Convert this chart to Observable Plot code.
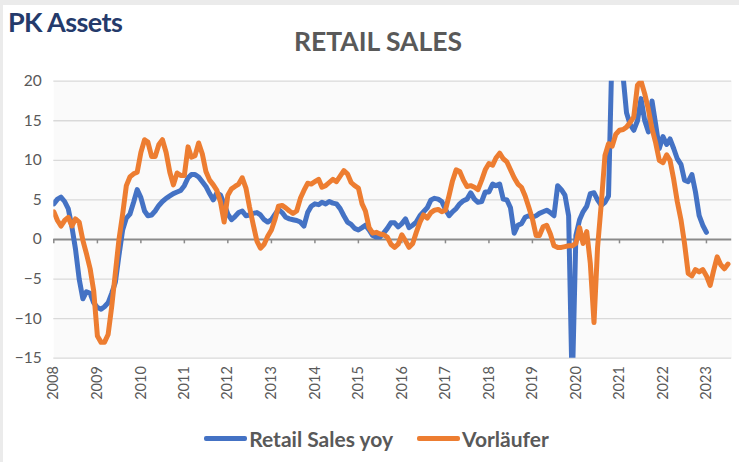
<!DOCTYPE html>
<html>
<head>
<meta charset="utf-8">
<script src="https://cdn.jsdelivr.net/npm/d3@7"></script>
<script src="https://cdn.jsdelivr.net/npm/@observablehq/plot@0.6"></script>
<style>
  html, body { margin: 0; padding: 0; background: #ffffff; }
  #page { position: relative; width: 739px; height: 462px; background: #ffffff; overflow: hidden;
          box-shadow: inset 3px 5px 0 0 #ebebeb; font-family: Lato, "Open Sans", sans-serif; }
  #logo { position: absolute; left: 8px; top: 8px; font-size: 27px; font-weight: 700; line-height: 1;
          color: #243a6b; letter-spacing: -0.6px; }
  #title { position: absolute; left: 0; width: 756px; top: 28px; text-align: center; font-size: 26.5px;
           font-weight: 700; line-height: 1; color: #595959; }
  #chart { position: absolute; left: 0; top: 62px; }
  #legend { position: absolute; left: 0; top: 424px; width: 739px; height: 28px; display: flex;
            align-items: center; justify-content: center; padding-left: 14px; box-sizing: border-box; }
  .item { display: flex; align-items: center; margin: 0 12px; font-size: 21px; font-weight: 700; color: #595959; }
  .sw { width: 43px; height: 5px; border-radius: 2px; margin-right: 2px; }
</style>
</head>
<body>
<div id="page">
  <div id="logo">PK Assets</div>
  <div id="title">RETAIL SALES</div>
  <div id="chart"></div>
  <div id="legend"></div>
</div>
<script>
// Monthly values, first value = January 2008
const startYear = 2008;
const retailSalesYoy = [
  4.5, 5.1, 5.35, 4.8, 3.9, 1.6, -1.2, -5.0, -7.5, -6.6, -6.8, -8.0,
  -8.6, -8.8, -8.5, -8.0, -6.8, -5.4, -2.0, 1.2, 2.7, 3.2, 4.7, 6.3,
  5.3, 3.6, 3.0, 3.1, 3.6, 4.3, 4.8, 5.2, 5.5, 5.8, 6.0, 6.2,
  6.8, 7.8, 8.2, 8.2, 7.9, 7.3, 6.7, 5.8, 5.0, 5.9, 5.6, 4.5,
  3.2, 2.5, 2.9, 3.4, 3.6, 3.0, 3.1, 3.3, 3.4, 3.1, 2.5, 2.2,
  2.5, 3.2, 3.8, 3.4, 2.8, 2.6, 2.5, 2.4, 2.2, 1.7, 3.4, 4.2,
  4.5, 4.4, 4.7, 4.5, 4.8, 4.6, 4.5, 3.9, 3.0, 2.2, 1.9, 1.4,
  1.2, 1.5, 1.8, 1.2, 0.5, 0.3, 0.3, 0.8, 1.4, 2.1, 2.1, 1.6,
  2.0, 2.6, 1.5, 1.8, 2.2, 3.0, 3.5, 4.0, 5.0, 5.2, 5.1, 4.8,
  3.8, 3.0, 3.5, 3.9, 4.5, 4.9, 5.1, 5.9, 5.1, 4.7, 4.8, 6.0,
  6.0, 7.0, 6.8, 7.0, 5.1, 5.0, 4.0, 0.8, 1.8, 2.0, 2.8, 3.0,
  2.8, 3.0, 3.3, 3.5, 3.7, 3.4, 3.0, 6.8, 6.3, 5.6, 3.0, -19.0,
  0.5, 2.5, 3.5, 4.2, 5.8, 5.9, 5.0, 4.3, 4.7, 5.5, 25.0, 35.0,
  40.0, 20.5, 16.0, 14.5, 13.8, 15.0, 17.8, 15.0, 13.6, 17.5, 14.5, 11.5,
  13.0, 12.0, 12.7, 11.5, 10.2, 9.5, 7.5, 7.3, 8.2, 6.0, 3.0, 1.8,
  0.9
];
const vorlaeufer = [
  3.5, 2.4, 1.7, 2.4, 2.8, 1.7, 2.6, 2.2, -0.1, -1.8, -3.7, -6.5,
  -12.2, -13.0, -13.0, -12.0, -8.5, -4.2, 0.0, 3.2, 6.8, 7.9, 8.3, 8.5,
  11.0, 12.6, 12.3, 10.5, 10.5, 12.0, 12.6, 11.0, 8.5, 6.9, 8.4, 8.1,
  8.1, 11.7, 10.4, 10.6, 12.2, 10.8, 8.6, 7.5, 6.9, 6.2, 4.7, 2.2,
  5.6, 6.4, 6.7, 7.0, 7.8, 6.5, 4.1, 1.9, -0.2, -1.1, -0.6, 0.4,
  1.2, 2.6, 4.2, 4.3, 4.0, 3.6, 3.3, 3.6, 5.2, 6.2, 7.1, 7.0,
  7.3, 7.6, 6.6, 6.8, 7.2, 7.6, 7.3, 8.0, 8.7, 8.3, 7.2, 6.8,
  6.5, 4.5, 3.6, 1.5, 0.8, 0.9, 0.7, 0.6, 0.3, -0.6, -1.0, -0.6,
  0.6, -0.2, -1.0, -0.5, 0.9, 2.2, 3.1, 2.7, 3.4, 3.7, 3.8, 3.5,
  3.7, 5.6, 7.4, 8.8, 8.6, 7.5, 6.7, 6.8, 6.6, 6.3, 7.5, 8.8,
  9.6, 9.4, 10.3, 10.9, 10.2, 9.8, 8.8, 7.8, 7.0, 6.6, 5.5, 4.1,
  2.6, 0.5, 0.5, 1.6, 1.8, 0.7, -0.8, -1.0, -1.0, -0.9, -0.8, -0.8,
  -0.5, 1.5, -0.5, 1.0, -3.0, -10.5, -1.0, 4.5, 10.6, 12.1, 11.8, 13.3,
  13.8, 13.9, 14.2, 14.8, 15.5, 19.5, 20.0, 18.4, 16.4, 14.0, 12.2, 10.0,
  9.7, 10.7, 10.0, 7.6, 4.8, 2.5, -0.5, -4.3, -4.6, -3.8, -4.1, -3.8,
  -4.6, -5.8, -4.0, -2.2, -3.2, -3.7, -3.1
];
const seriesNames = ["Retail Sales yoy", "Vorläufer"];
const seriesColors = ["#4472C4", "#ED7D31"];
const yTicks = [-15, -10, -5, 0, 5, 10, 15, 20];
const yearLabels = [2008, 2009, 2010, 2011, 2012, 2013, 2014, 2015, 2016, 2017, 2018, 2019, 2020, 2021, 2022, 2023];

const toRows = (arr) => arr.map((v, i) => ({date: new Date(Date.UTC(startYear, i, 1)), value: v}));
const blueRows = toRows(retailSalesYoy);
const orangeRows = toRows(vorlaeufer);
const yearDates = yearLabels.map(y => new Date(Date.UTC(y, 0, 1)));

const chart = Plot.plot({
  width: 739,
  height: 360,
  marginTop: 18.7,
  marginBottom: 64.3,
  marginLeft: 53.3,
  marginRight: 7.8,
  x: {type: "utc", domain: [new Date(Date.UTC(2008, 0, 1)), new Date(Date.UTC(2023, 7, 1))]},
  y: {domain: [-15, 20]},
  style: {fontFamily: "Lato, 'Open Sans', sans-serif", color: "#595959", background: "transparent", overflow: "visible"},
  marks: [
    Plot.frame({fill: "#fafafa", stroke: null}),
    Plot.gridY(yTicks.filter(d => d !== 0), {stroke: "#d9d9d9", strokeOpacity: 1, strokeWidth: 1.3}),
    Plot.axisY(yTicks, {tickSize: 0, tickPadding: 12, fontSize: 15.5, label: null, fill: "#595959"}),
    Plot.axisX(yearDates, {tickFormat: d3.utcFormat("%Y"), tickRotate: -90, tickSize: 0, tickPadding: 8,
                           fontSize: 14.5, label: null, fill: "#595959"}),
    Plot.ruleY([0], {stroke: "#8a8a8a", strokeWidth: 2}),
    Plot.ruleX(yearDates, {x: d => d, y1: 0, y2: -0.55, stroke: "#8a8a8a", strokeWidth: 1.5}),
    Plot.line(blueRows, {x: "date", y: "value", stroke: seriesColors[0], strokeWidth: 5,
                         strokeLinejoin: "round", strokeLinecap: "round", clip: true}),
    Plot.line(orangeRows, {x: "date", y: "value", stroke: seriesColors[1], strokeWidth: 5,
                           strokeLinejoin: "round", strokeLinecap: "round", clip: true})
  ]
});
document.getElementById("chart").appendChild(chart);

const legend = document.getElementById("legend");
seriesNames.forEach((name, i) => {
  const item = document.createElement("div");
  item.className = "item";
  const sw = document.createElement("span");
  sw.className = "sw";
  sw.style.background = seriesColors[i];
  const label = document.createElement("span");
  label.textContent = name;
  item.appendChild(sw);
  item.appendChild(label);
  legend.appendChild(item);
});
</script>
</body>
</html>
